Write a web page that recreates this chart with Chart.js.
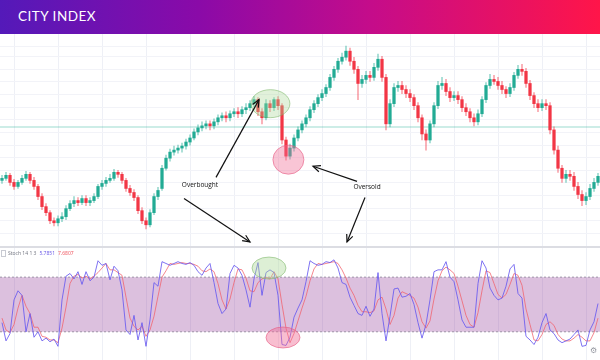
<!DOCTYPE html>
<html><head><meta charset="utf-8">
<script src="https://cdn.jsdelivr.net/npm/chart.js@4.4.1/dist/chart.umd.min.js"></script>
<style>
html,body{margin:0;padding:0;background:#fff;width:600px;height:360px;overflow:hidden;font-family:'Noto Sans',sans-serif}
#hdr{position:absolute;left:0;top:0;width:600px;height:34px;background:linear-gradient(90deg,#5419b9 0%,#8a0aa8 33%,#c50c8a 62%,#ff1549 100%)}
#hdr span{position:absolute;left:18px;top:8px;color:#fff;font-family:'Lato',sans-serif;font-size:13.5px;letter-spacing:0.5px}
#main{position:absolute;left:0;top:34px}
#sep{position:absolute;left:0;top:246px;width:600px;height:2px;background:#dcdde3}
#stoch{position:absolute;left:0;top:248px}
#leg{position:absolute;left:1px;top:250px;font-size:5px;line-height:7px;white-space:nowrap;color:#787b86}
#leg .box{display:inline-block;width:3px;height:5px;border:1px solid #c8cad2;vertical-align:middle;margin-right:2px}
#leg span{margin-right:3px}
#gear{position:absolute;left:590px;top:346px;font-size:8px;color:#9598a1;font-family:'DejaVu Sans'}
</style></head>
<body>
<div id="hdr"><span>CITY INDEX</span></div>
<canvas id="main" width="600" height="212"></canvas>
<div id="sep"></div>
<canvas id="stoch" width="600" height="112"></canvas>
<div id="leg"><span class="box"></span><span>Stoch 14 1 3</span><span style="color:#6f5fe8">5.7851</span><span style="color:#ef5a63">7.6807</span></div>
<div id="gear">⚙</div>
<script>
// ---------- DATA ----------
const opens = [70,72,75,68,64,68,72,76,70,64,
54,44,38,30,28,32,34,42,47,50,
48,52,48,50,54,64,67,70,72,78,
76,70,62,58,53,40,30,26,38,54,
62,82,92,98,100,102,104,108,112,118,
122,124,126,124,128,132,134,132,136,138,
136,140,142,146,150,138,132,146,142,150,
144,110,94,102,112,120,126,132,140,146,
152,156,162,172,180,188,192,198,188,180,
166,170,174,172,182,190,172,126,146,162,
164,160,156,152,144,132,116,110,126,144,
164,166,158,152,154,150,142,138,132,128,
136,150,164,170,168,164,160,156,162,174,
180,178,166,154,146,142,146,144,120,100,
82,72,76,74,64,56,50,54,62,68];
const closes = [72,75,68,64,68,72,76,70,64,54,
44,38,30,28,32,34,42,47,50,48,
52,48,50,54,64,67,70,72,78,76,
70,62,58,53,40,30,26,38,54,60,
82,92,98,100,102,104,108,112,118,122,
124,126,124,128,132,134,132,136,138,136,
140,142,146,150,138,132,146,142,150,144,
110,94,102,112,120,126,132,140,146,152,
156,162,172,180,188,192,198,188,180,166,
170,174,172,182,190,172,126,146,162,164,
160,156,152,144,132,116,110,126,144,164,
166,158,152,154,150,142,138,132,128,136,
150,164,170,168,164,160,156,162,174,180,
178,166,154,146,142,146,144,120,100,82,
72,76,74,64,56,50,54,62,68,74];
const highs = [75,78,77,71,70,75,79,78,73,66,
57,47,40,33,35,38,45,50,54,53,
55,55,53,57,66,70,73,76,81,80,
78,72,65,61,55,43,33,41,57,63,
85,95,101,104,105,107,111,115,121,125,
128,129,129,131,135,137,138,139,141,142,
143,146,149,153,152,141,150,149,152,153,
146,113,106,115,123,129,135,143,149,155,
160,165,175,183,191,196,203,201,192,183,
174,178,178,186,195,193,175,150,166,168,
168,164,160,155,147,135,120,129,147,168,
172,170,162,158,158,153,146,141,136,140,
153,167,175,174,172,168,163,166,177,184,
185,181,169,157,150,150,150,147,123,104,
85,80,80,78,68,60,58,66,72,77];
const lows = [67,70,65,61,62,66,70,67,61,51,
41,35,27,25,25,29,31,40,44,45,
46,45,45,48,52,61,64,68,70,73,
67,59,55,50,37,27,22,24,36,51,
60,80,89,95,97,98,101,105,110,115,
119,121,120,121,125,129,128,129,133,132,
133,136,139,143,134,126,130,138,139,140,
106,90,91,99,109,117,123,129,137,143,
149,153,159,169,177,185,189,184,176,150,
162,166,168,169,179,168,120,123,143,158,
156,152,148,140,128,110,100,107,123,141,
160,154,148,149,146,138,134,128,124,125,
133,147,161,165,160,156,152,153,159,171,
174,162,150,142,138,139,140,116,96,78,
68,68,70,60,52,45,46,51,59,65];
const stochK = [30,10,18,55,65,60,20,40,14,20,
10,13,9,12,4,55,81,84,78,86,
72,86,76,80,98,93,95,77,92,87,
66,22,17,38,11,30,4,33,74,70,
97,95,93,95,97,95,94,96,93,86,
82,90,95,74,51,40,45,84,93,90,
82,66,47,78,96,60,85,88,85,60,
6,5,14,36,46,55,75,98,95,93,
94,97,96,99,90,74,72,58,49,40,
38,48,37,45,85,40,10,37,67,68,
58,59,62,50,30,13,28,55,86,88,
88,97,80,75,55,33,25,25,25,73,
98,90,68,60,55,57,70,89,94,62,
57,15,11,6,14,30,40,22,18,11,
8,10,12,17,22,4,5,22,31,51];
const stochD = [35,22,19,28,46,60,48,40,25,25,
15,14,11,11,8,24,47,73,81,83,
79,81,78,81,85,90,95,88,88,85,
82,58,35,26,22,26,15,22,37,59,
80,87,95,94,95,96,95,95,94,92,
87,86,89,86,73,55,45,56,74,89,
88,79,65,64,74,78,80,78,86,78,
50,24,8,18,32,46,59,76,89,95,
94,95,96,97,95,88,79,68,60,49,
42,42,41,43,55,58,45,28,38,57,
64,62,60,57,47,31,24,32,56,76,
87,91,88,84,70,54,38,28,25,41,
65,87,85,73,61,57,61,72,84,82,
71,45,28,11,10,17,28,31,27,17,
12,10,10,13,17,14,10,10,19,35];
const categories = closes.map((_, i) => 'Bar ' + (i + 1));
const levelPrice = 123;
const gridPrices = [17.5,30,42.5,55,67.5,80,92.5,105,117.5,130,142.5,155,167.5,180,192.5,202.5];
const stochLevels = [20, 80];
const annoTexts = ['Overbought', 'Oversold'];

// ---------- STYLE ----------
const UP = '#22ab94', DOWN = '#f23645';
const UPW = 'rgba(34,171,148,0.45)', DOWNW = 'rgba(242,54,69,0.45)';
const isUp = i => closes[i] >= opens[i];
const vGrid = ctx => (ctx.index % 11 === 3) ? '#eef0f6' : 'rgba(0,0,0,0)';

function arrow(ctx, x1, y1, x2, y2) {
  const a = Math.atan2(y2 - y1, x2 - x1), L = 8, s = 0.42;
  ctx.beginPath(); ctx.moveTo(x1, y1); ctx.lineTo(x2, y2); ctx.stroke();
  ctx.beginPath();
  ctx.moveTo(x2 - L * Math.cos(a - s), y2 - L * Math.sin(a - s));
  ctx.lineTo(x2, y2);
  ctx.lineTo(x2 - L * Math.cos(a + s), y2 - L * Math.sin(a + s));
  ctx.stroke();
}
function ellipse(ctx, cx, cy, rx, ry, fill, stroke) {
  ctx.beginPath(); ctx.ellipse(cx, cy, rx, ry, 0, 0, Math.PI * 2);
  ctx.fillStyle = fill; ctx.fill();
  ctx.strokeStyle = stroke; ctx.lineWidth = 1; ctx.stroke();
}

const mainDecor = {
  id: 'mainDecor',
  beforeDatasetsDraw(chart) {
    const { ctx, chartArea: a, scales: { y } } = chart;
    const py = y.getPixelForValue(levelPrice);
    ctx.save();
    ctx.strokeStyle = 'rgba(34,171,148,0.3)'; ctx.lineWidth = 1.5;
    ctx.beginPath(); ctx.moveTo(a.left, py); ctx.lineTo(a.right, py); ctx.stroke();
    ctx.restore();
  },
  afterDatasetsDraw(chart) {
    const { ctx, scales: { x, y } } = chart;
    const X = v => x.getPixelForValue(v), Y = v => y.getPixelForValue(v);
    ctx.save();
    ellipse(ctx, X(67.1), Y(146), 19.5, 14, 'rgba(170,215,150,0.35)', 'rgba(120,180,100,0.55)');
    ellipse(ctx, X(71.6), Y(90.5), 15.5, 14.5, 'rgba(240,110,150,0.4)', 'rgba(230,90,130,0.6)');
    ctx.strokeStyle = '#111'; ctx.lineWidth = 1.2;
    arrow(ctx, X(53.5), Y(73), X(64.25), Y(150));
    arrow(ctx, X(45.5), Y(52), X(62), Y(9));
    arrow(ctx, X(88.75), Y(69), X(77.75), Y(84));
    arrow(ctx, X(90.75), Y(53), X(86.25), Y(9));
    ctx.fillStyle = '#111'; ctx.font = '6.5px "Open Sans"';
    ctx.textAlign = 'center'; ctx.textBaseline = 'middle';
    ctx.fillText(annoTexts[0], X(49.5), Y(65));
    ctx.fillText(annoTexts[1], X(91.25), Y(63));
    ctx.restore();
  }
};

new Chart(document.getElementById('main'), {
  type: 'bar',
  data: {
    labels: categories,
    datasets: [
      { data: closes.map((c, i) => [opens[i], c]), grouped: false, barThickness: 2.6, minBarLength: 1,
        backgroundColor: closes.map((c, i) => isUp(i) ? UP : DOWN), order: 0 },
      { data: lows.map((l, i) => [l, highs[i]]), grouped: false, barThickness: 1,
        backgroundColor: closes.map((c, i) => isUp(i) ? UPW : DOWNW), order: 1 }
    ]
  },
  options: {
    responsive: false, animation: false, devicePixelRatio: 1,
    layout: { padding: 0 },
    plugins: { legend: { display: false }, tooltip: { enabled: false } },
    scales: {
      x: { offset: true, grid: { offset: false, color: vGrid, drawTicks: false }, ticks: { display: false }, border: { display: false } },
      y: { min: 5, max: 215, grid: { color: '#f2f3f8', drawTicks: false }, ticks: { display: false }, border: { display: false },
           afterBuildTicks: s => { s.ticks = gridPrices.map(v => ({ value: v })); } }
    }
  },
  plugins: [mainDecor]
});

const stochDecor = {
  id: 'stochDecor',
  beforeDatasetsDraw(chart) {
    const { ctx, chartArea: a, scales: { y } } = chart;
    const y80 = y.getPixelForValue(stochLevels[1]), y20 = y.getPixelForValue(stochLevels[0]);
    ctx.save();
    ctx.fillStyle = 'rgba(138,45,145,0.3)';
    ctx.fillRect(a.left, y80, a.right - a.left, y20 - y80);
    ctx.strokeStyle = 'rgba(150,140,160,0.9)'; ctx.lineWidth = 1; ctx.setLineDash([2, 2]);
    [y80, y20].forEach(p => { ctx.beginPath(); ctx.moveTo(a.left, p); ctx.lineTo(a.right, p); ctx.stroke(); });
    ctx.restore();
  },
  afterDatasetsDraw(chart) {
    const { ctx, scales: { x, y } } = chart;
    const X = v => x.getPixelForValue(v), Y = v => y.getPixelForValue(v);
    ctx.save();
    ellipse(ctx, X(66.75), Y(90), 17, 11, 'rgba(170,215,150,0.4)', 'rgba(120,180,100,0.55)');
    ellipse(ctx, X(70.25), Y(13.7), 17, 10.5, 'rgba(240,110,150,0.45)', 'rgba(230,90,130,0.6)');
    ctx.restore();
  }
};

new Chart(document.getElementById('stoch'), {
  type: 'line',
  data: {
    labels: categories,
    datasets: [
      { data: stochK, borderColor: 'rgba(105,90,240,0.85)', borderWidth: 1, pointRadius: 0, tension: 0 },
      { data: stochD, borderColor: 'rgba(242,95,105,0.75)', borderWidth: 1, pointRadius: 0, tension: 0 }
    ]
  },
  options: {
    responsive: false, animation: false, devicePixelRatio: 1,
    layout: { padding: 0 },
    plugins: { legend: { display: false }, tooltip: { enabled: false } },
    scales: {
      x: { offset: true, grid: { offset: false, color: vGrid, drawTicks: false }, ticks: { display: false }, border: { display: false } },
      y: { min: -11, max: 112, grid: { color: 'rgba(0,0,0,0)', drawTicks: false }, ticks: { display: false }, border: { display: false } }
    }
  },
  plugins: [stochDecor]
});
</script>
</body></html>
